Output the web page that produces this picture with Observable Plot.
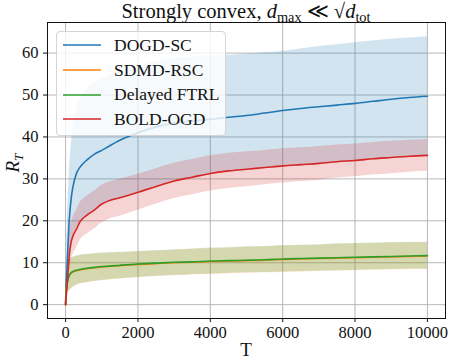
<!DOCTYPE html>
<html><head><meta charset="utf-8">
<script src="https://cdn.jsdelivr.net/npm/d3@7"></script>
<script src="https://cdn.jsdelivr.net/npm/@observablehq/plot@0.6"></script>
<style>
body{margin:0;background:#fff;}
#wrap{position:relative;width:449px;height:361px;font-family:"Liberation Serif",serif;color:#111;overflow:hidden;}
#chart{position:absolute;left:0;top:0;z-index:1;}
#title{position:absolute;left:47px;width:398px;top:1px;text-align:center;font-size:20.5px;white-space:nowrap;line-height:21px;z-index:2;}
#title sub, #ylabel sub{font-size:0.7em;vertical-align:-0.3em;line-height:0;}
.ov{border-top:1.2px solid #111;}
#legend{position:absolute;left:56px;top:31px;width:170px;height:105px;box-sizing:border-box;border:1px solid #d4d4d4;border-radius:4px;background:rgba(255,255,255,0.8);padding-top:1px;z-index:3;}
.row{display:flex;align-items:center;height:24.7px;font-size:17.5px;}
.row svg{margin-left:6px;margin-right:13px;flex:none;}
#xlabel{position:absolute;left:246px;top:340px;transform:translateX(-50%);font-size:19px;line-height:20px;z-index:2;}
#ylabel{position:absolute;left:13px;top:163px;transform:translate(-50%,-50%) rotate(-90deg);font-size:19px;font-style:italic;white-space:nowrap;line-height:20px;z-index:2;}
</style></head><body>
<div id="wrap">
 <div id="chart"></div>
 <div id="title">Strongly convex, <i>d</i><sub>max</sub> ≪ √<span class="ov"><i>d</i><sub>tot</sub></span></div>
 <div id="legend"></div>
 <div id="xlabel">T</div>
 <div id="ylabel">R<sub>T</sub></div>
</div>
<script>
const seriesNames = ["DOGD-SC", "SDMD-RSC", "Delayed FTRL", "BOLD-OGD"];
const seriesColors = ["#1f77b4", "#ff7f0e", "#2ca02c", "#d62728"];
const xTicks = [0, 2000, 4000, 6000, 8000, 10000];
const yTicks = [0, 10, 20, 30, 40, 50, 60];

const T = [0, 10, 25, 50, 100, 150, 200, 300, 400, 600, 800, 1000, 1200, 1500, 2000, 2500, 3000, 3500, 4000, 4500, 5000, 5500, 6000, 6500, 7000, 7500, 8000, 8500, 9000, 9500, 10000];

const dogdMean = [0, 3, 6, 11, 20, 25, 28, 31.3, 32.8, 34.6, 35.9, 36.8, 37.8, 39.2, 41.0, 42.4, 43.3, 43.8, 44.2, 44.7, 45.1, 45.7, 46.3, 46.8, 47.2, 47.6, 48.0, 48.5, 49.0, 49.4, 49.7];
const dogdLo = [0, 1.5, 3, 5.5, 11, 14.5, 16.2, 18.2, 19.5, 21.2, 22.5, 23.7, 24.5, 25.2, 26.5, 27.9, 29.2, 30.1, 31.0, 31.6, 32.0, 32.4, 32.8, 33.1, 33.4, 33.8, 34.1, 34.5, 34.8, 35.1, 35.4];
const dogdHi = [0, 6, 12, 20, 31, 37.5, 42, 46.5, 49, 51.5, 53, 53.9, 54.6, 55.5, 56.8, 58, 58.8, 59.1, 59.3, 59.5, 59.8, 60.1, 60.4, 61, 61.6, 62, 62.5, 62.9, 63.3, 63.6, 63.9];

const sdmdMean = [0, 2.4, 3.9, 5.4, 6.9, 7.5, 7.8, 8.1, 8.3, 8.6, 8.8, 9.0, 9.1, 9.3, 9.6, 9.8, 10.0, 10.1, 10.3, 10.4, 10.5, 10.6, 10.8, 10.9, 11.0, 11.1, 11.2, 11.3, 11.4, 11.5, 11.6];
const sdmdLo = [0, 0.9, 1.9, 2.7, 3.3, 3.7, 4.1, 4.6, 4.9, 5.2, 5.5, 5.7, 5.9, 6.1, 6.4, 6.7, 6.9, 7.1, 7.2, 7.4, 7.5, 7.6, 7.7, 7.8, 7.9, 8.0, 8.1, 8.2, 8.3, 8.4, 8.4];
const sdmdHi = [0, 4.4, 6.9, 8.9, 10.4, 11.0, 11.2, 11.5, 11.7, 11.9, 12.1, 12.2, 12.3, 12.4, 12.6, 12.8, 13.0, 13.2, 13.4, 13.5, 13.7, 13.8, 14.0, 14.1, 14.2, 14.4, 14.5, 14.6, 14.7, 14.8, 14.8];

const ftrlMean = [0, 2.5, 4.0, 5.5, 7.0, 7.6, 7.9, 8.2, 8.4, 8.7, 8.9, 9.1, 9.2, 9.4, 9.7, 9.9, 10.1, 10.2, 10.4, 10.5, 10.6, 10.7, 10.9, 11.0, 11.1, 11.2, 11.3, 11.4, 11.5, 11.6, 11.7];
const ftrlLo = [0, 1, 2, 2.8, 3.3, 3.7, 4.2, 4.7, 5.0, 5.3, 5.6, 5.8, 6.0, 6.2, 6.5, 6.8, 7.0, 7.2, 7.3, 7.5, 7.6, 7.7, 7.8, 7.9, 8.0, 8.1, 8.2, 8.3, 8.4, 8.5, 8.5];
const ftrlHi = [0, 4.5, 7, 9, 10.5, 11.1, 11.3, 11.6, 11.8, 12.0, 12.2, 12.3, 12.4, 12.5, 12.7, 12.9, 13.1, 13.3, 13.5, 13.6, 13.8, 13.9, 14.1, 14.2, 14.3, 14.5, 14.6, 14.7, 14.8, 14.9, 14.9];

const boldMean = [0, 1.5, 3, 5.5, 11.6, 14.8, 16.3, 18.0, 19.8, 21.4, 22.6, 24.0, 24.8, 25.5, 26.8, 28.2, 29.5, 30.4, 31.3, 31.9, 32.3, 32.7, 33.1, 33.4, 33.7, 34.1, 34.4, 34.8, 35.1, 35.4, 35.6];
const boldLo = [0, 0.2, 0.5, 1.5, 7.2, 10.3, 11.8, 13.5, 15.3, 16.9, 18.1, 19.5, 20.4, 21.1, 22.5, 24.0, 25.3, 26.2, 27.1, 27.7, 28.1, 28.6, 29.0, 29.4, 29.7, 30.2, 30.5, 30.9, 31.2, 31.6, 31.8];
const boldHi = [0, 3.5, 6, 9.5, 16, 19.3, 20.8, 22.5, 24.3, 25.9, 27.1, 28.5, 29.2, 29.9, 31.1, 32.4, 33.7, 34.6, 35.5, 36.1, 36.5, 36.8, 37.2, 37.4, 37.7, 38.1, 38.3, 38.7, 39.0, 39.2, 39.4];

const means = [dogdMean, sdmdMean, ftrlMean, boldMean];
const los = [dogdLo, sdmdLo, ftrlLo, boldLo];
const his = [dogdHi, sdmdHi, ftrlHi, boldHi];

const tables = seriesNames.map((name, s) => T.map((t, i) => ({series: name, T: t, mean: means[s][i], lo: los[s][i], hi: his[s][i]})));

const gridStyle = {stroke: "#b0b0b0", strokeOpacity: 1, strokeWidth: 0.9};
const chart = Plot.plot({
  width: 449, height: 361,
  marginLeft: 47, marginRight: 4, marginTop: 22, marginBottom: 43,
  style: {fontFamily: "Liberation Serif", fontSize: "16.5px", color: "#111", background: "transparent"},
  x: {domain: [-500, 10500]},
  y: {domain: [-3.3, 67.3]},
  marks: [
    Plot.gridX(xTicks, gridStyle),
    Plot.gridY(yTicks, gridStyle),
    ...tables.map((d, s) => Plot.areaY(d, {x: "T", y1: "lo", y2: "hi", fill: seriesColors[s], fillOpacity: 0.2, curve: "monotone-x"})),
    ...tables.map((d, s) => Plot.lineY(d, {x: "T", y: "mean", stroke: seriesColors[s], strokeWidth: 1.6, curve: "monotone-x"})),
    Plot.frame({stroke: "#111", strokeWidth: 1}),
    Plot.axisX(xTicks, {tickSize: 4, tickPadding: 4, label: null, tickFormat: d => String(d), fontSize: 16.5}),
    Plot.axisY(yTicks, {tickSize: 4, tickPadding: 5, label: null, tickFormat: d => String(d), fontSize: 16.5})
  ]
});
document.getElementById("chart").appendChild(chart);

const legend = d3.select("#legend");
seriesNames.forEach((name, s) => {
  const row = legend.append("div").attr("class", "row");
  const sw = row.append("svg").attr("width", 38).attr("height", 6);
  sw.append("line").attr("x1", 0).attr("x2", 38).attr("y1", 3).attr("y2", 3)
    .attr("stroke", seriesColors[s]).attr("stroke-width", 1.7);
  row.append("span").text(name);
});
</script>
</body></html>
